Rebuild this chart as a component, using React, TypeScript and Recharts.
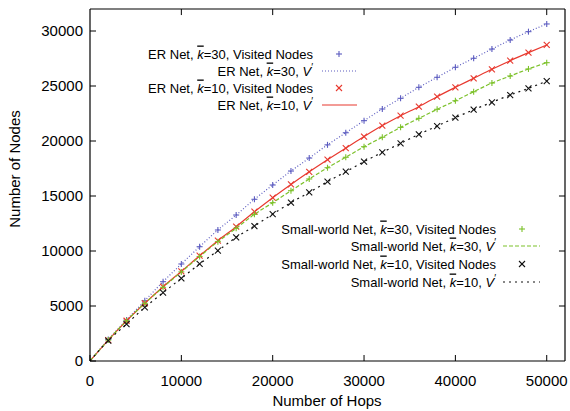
import { ComposedChart, Line, Scatter, XAxis, YAxis, ReferenceLine } from 'recharts'

const hops = [0, 2000, 4000, 6000, 8000, 10000, 12000, 14000, 16000, 18000, 20000, 22000, 24000,
  26000, 28000, 30000, 32000, 34000, 36000, 38000, 40000, 42000, 44000, 46000, 48000, 50000]

const erK30 = [0, 1950, 3730, 5480, 7210, 8820, 10390, 11910, 13270, 14700, 16000, 17270, 18450,
  19650, 20750, 21850, 22910, 23880, 24880, 25790, 26700, 27520, 28360, 29180, 29940, 30640]
const erK10 = [0, 1900, 3660, 5250, 6750, 8150, 9570, 10940, 12210, 13570, 14850, 16050, 17200,
  18300, 19350, 20400, 21400, 22300, 23120, 24030, 24880, 25700, 26520, 27300, 28030, 28730]
const swK30 = [0, 1900, 3660, 5240, 6700, 8100, 9500, 10850, 12060, 13330, 14390, 15480, 16550,
  17570, 18520, 19480, 20340, 21240, 22060, 22880, 23660, 24480, 25270, 25910, 26550, 27120]
const swK10 = [0, 1850, 3360, 4880, 6210, 7520, 8820, 10030, 11240, 12270, 13360, 14390, 15330,
  16300, 17210, 18120, 18970, 19790, 20610, 21360, 22120, 22850, 23520, 24180, 24790, 25450]

const xTicks = [0, 10000, 20000, 30000, 40000, 50000]
const yTicks = [0, 5000, 10000, 15000, 20000, 25000, 30000]
const X_MAX = 52000
const Y_MAX = 32000

const BLUE = '#5c5cc0'
const RED = '#e8392f'
const GREEN = '#7cc12a'
const BLACK = '#111111'
const FONT = '"Liberation Sans", Arial, sans-serif'

const rows = hops.map((h, i) => ({ hops: h, er30: erK30[i], er10: erK10[i], sw30: swK30[i], sw10: swK10[i] }))

const plus = (color: string) => (p: any) => {
  if (!p.payload || p.payload.hops === 0) return <g />
  const { cx, cy } = p
  return (
    <g stroke={color} strokeWidth={1.1}>
      <line x1={cx - 3} y1={cy} x2={cx + 3} y2={cy} />
      <line x1={cx} y1={cy - 3} x2={cx} y2={cy + 3} />
    </g>
  )
}

const cross = (color: string) => (p: any) => {
  if (!p.payload || p.payload.hops === 0) return <g />
  const { cx, cy } = p
  return (
    <g stroke={color} strokeWidth={1.1}>
      <line x1={cx - 3} y1={cy - 3} x2={cx + 3} y2={cy + 3} />
      <line x1={cx - 3} y1={cy + 3} x2={cx + 3} y2={cy - 3} />
    </g>
  )
}

// ticks point inward like gnuplot
function BottomTick({ x, y, payload }: any) {
  return (
    <g>
      <line x1={x} y1={y} x2={x} y2={y - 6} stroke="#000" />
      <text x={x} y={y + 25} textAnchor="middle" fontSize={15} fontFamily={FONT} fill="#000">{payload.value}</text>
    </g>
  )
}
function LeftTick({ x, y, payload }: any) {
  return (
    <g>
      <line x1={x} y1={y} x2={x + 6} y2={y} stroke="#000" />
      <text x={x - 7} y={y + 5} textAnchor="end" fontSize={15} fontFamily={FONT} fill="#000">{payload.value}</text>
    </g>
  )
}

function LegendRow({ x, y, prefix, kv, visited, sample }: any) {
  return (
    <g>
      <text x={x} y={y + 4.5} textAnchor="end" fontSize={13} fontFamily={FONT} fill="#000">
        <tspan>{prefix}, </tspan>
        <tspan fontStyle="italic" style={{ textDecoration: 'overline' }}>k</tspan>
        <tspan>={kv}, </tspan>
        {visited ? <tspan>Visited Nodes</tspan> : <tspan fontStyle="italic">V</tspan>}
        {visited ? null : <tspan fontSize={10} dy={-5}>′</tspan>}
      </text>
      {sample}
    </g>
  )
}

export default function App() {
  return (
    <div style={{ position: 'relative', width: 570, height: 411, background: '#fff' }}>
      <style>{'body { margin: 0; }'}</style>
      <ComposedChart width={570} height={411} data={rows} margin={{ top: 9, right: 5, bottom: 0, left: 0 }}>
        <XAxis dataKey="hops" type="number" domain={[0, X_MAX]} ticks={xTicks} allowDataOverflow
          height={50} tickSize={0} tickMargin={0} tickLine={false} tick={<BottomTick />}
          axisLine={{ stroke: '#000', strokeWidth: 1.2 }} />
        <YAxis type="number" domain={[0, Y_MAX]} ticks={yTicks} allowDataOverflow width={90}
          tickSize={0} tickMargin={0} tickLine={false} tick={<LeftTick />}
          axisLine={{ stroke: '#000', strokeWidth: 1.2 }} />

        {/* frame top/right with inward mirrored ticks */}
        <ReferenceLine y={Y_MAX} stroke="#000" strokeWidth={1.2} ifOverflow="visible" />
        <ReferenceLine x={X_MAX} stroke="#000" strokeWidth={1.2} ifOverflow="visible" />
        {xTicks.slice(1).map((t) => (
          <ReferenceLine key={'tx' + t} segment={[{ x: t, y: Y_MAX }, { x: t, y: Y_MAX - 550 }]} stroke="#000" ifOverflow="visible" />
        ))}
        {yTicks.slice(1).map((t) => (
          <ReferenceLine key={'ty' + t} segment={[{ x: X_MAX, y: t }, { x: X_MAX - 660, y: t }]} stroke="#000" ifOverflow="visible" />
        ))}

        <Line dataKey="er30" stroke={BLUE} strokeWidth={1.2} strokeDasharray="1 2" dot={false} type="monotone" isAnimationActive={false} />
        <Line dataKey="er10" stroke={RED} strokeWidth={1.2} dot={false} type="monotone" isAnimationActive={false} />
        <Line dataKey="sw30" stroke={GREEN} strokeWidth={1.2} strokeDasharray="4 2" dot={false} type="monotone" isAnimationActive={false} />
        <Line dataKey="sw10" stroke={BLACK} strokeWidth={1.2} strokeDasharray="2 4" dot={false} type="monotone" isAnimationActive={false} />

        <Scatter dataKey="er30" shape={plus(BLUE)} isAnimationActive={false} />
        <Scatter dataKey="er10" shape={cross(RED)} isAnimationActive={false} />
        <Scatter dataKey="sw30" shape={plus(GREEN)} isAnimationActive={false} />
        <Scatter dataKey="sw10" shape={cross(BLACK)} isAnimationActive={false} />
      </ComposedChart>

      <svg width={570} height={411} style={{ position: 'absolute', left: 0, top: 0, pointerEvents: 'none' }}>
        <text x={15} y={169} transform="rotate(-90 15 169)" dy={5} textAnchor="middle" fontSize={15} fontFamily={FONT}>Number of Nodes</text>
        <text x={327} y={406} textAnchor="middle" fontSize={15} fontFamily={FONT}>Number of Hops</text>

        <LegendRow x={313} y={54} prefix="ER Net" kv="30" visited
          sample={plus(BLUE)({ cx: 339, cy: 54, payload: { hops: 1 } })} />
        <LegendRow x={313} y={71} prefix="ER Net" kv="30"
          sample={<line x1={322} y1={71} x2={357} y2={71} stroke={BLUE} strokeWidth={1.2} strokeDasharray="1 2" />} />
        <LegendRow x={313} y={88} prefix="ER Net" kv="10" visited
          sample={cross(RED)({ cx: 339, cy: 88, payload: { hops: 1 } })} />
        <LegendRow x={313} y={105} prefix="ER Net" kv="10"
          sample={<line x1={322} y1={105} x2={357} y2={105} stroke={RED} strokeWidth={1.2} />} />

        <LegendRow x={496} y={229} prefix="Small-world Net" kv="30" visited
          sample={plus(GREEN)({ cx: 522, cy: 229, payload: { hops: 1 } })} />
        <LegendRow x={496} y={246} prefix="Small-world Net" kv="30"
          sample={<line x1={503} y1={246} x2={540} y2={246} stroke={GREEN} strokeWidth={1.2} strokeDasharray="4 2" />} />
        <LegendRow x={496} y={264} prefix="Small-world Net" kv="10" visited
          sample={cross(BLACK)({ cx: 522, cy: 264, payload: { hops: 1 } })} />
        <LegendRow x={496} y={282} prefix="Small-world Net" kv="10"
          sample={<line x1={503} y1={282} x2={540} y2={282} stroke={BLACK} strokeWidth={1.2} strokeDasharray="2 4" />} />
      </svg>
    </div>
  )
}
